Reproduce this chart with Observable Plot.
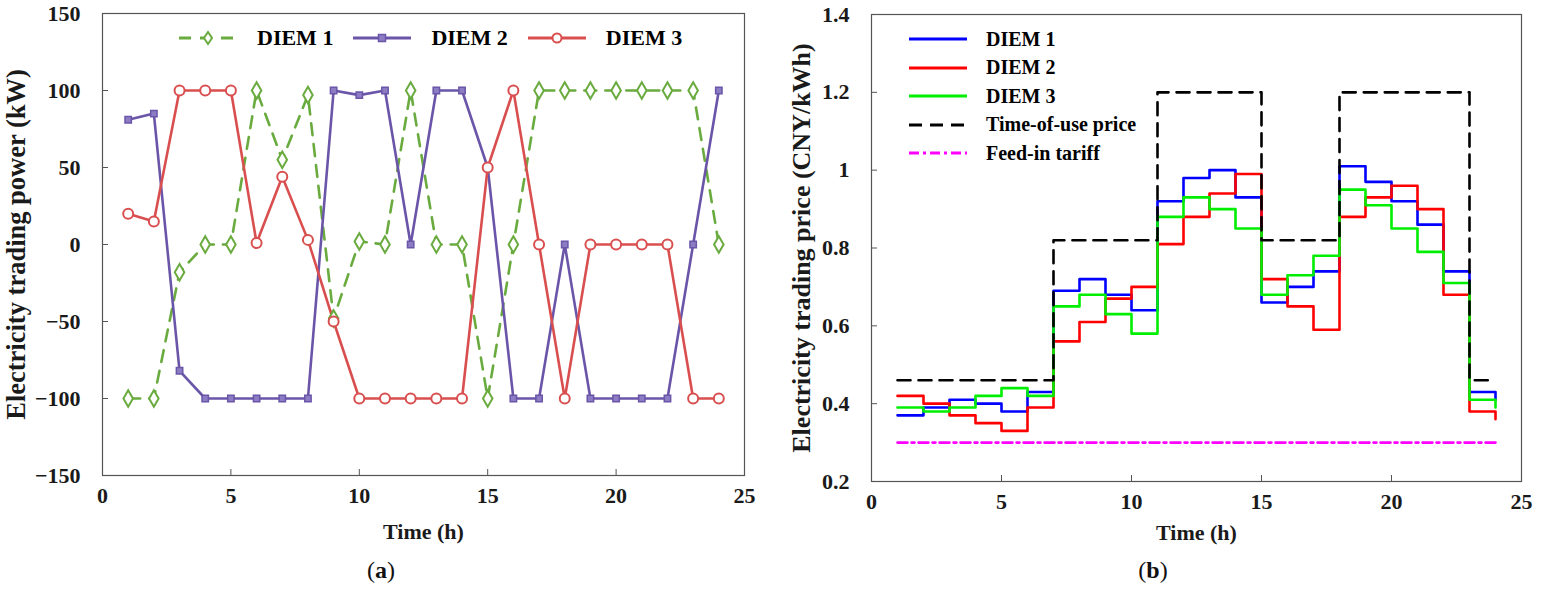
<!DOCTYPE html>
<html>
<head>
<meta charset="utf-8">
<script src="https://cdn.jsdelivr.net/npm/d3@7"></script>
<script src="https://cdn.jsdelivr.net/npm/@observablehq/plot@0.6"></script>
<style>
  body { margin: 0; background: #fff; }
  #wrap { position: relative; width: 1545px; height: 595px; overflow: hidden; font-family: "Liberation Serif", "Times New Roman", serif; color: #111; }
  .chart { position: absolute; top: 0; }
  .legend { position: absolute; font-weight: bold; color: #000; }
  .item { display: flex; align-items: center; white-space: nowrap; }
  .caption { position: absolute; top: 557px; font-size: 24px; transform: translateX(-50%); color: #111; }
</style>
</head>
<body>
<div id="wrap">
  <div class="chart" id="left" style="left:0px"></div>
  <div class="chart" id="right" style="left:770px"></div>
  <div class="legend" id="legLeft" style="left:177px; top:25px; font-size:22px; display:flex; gap:0px;"></div>
  <div class="legend" id="legRight" style="left:907px; top:25px; font-size:20px;"></div>
  <div class="caption" style="left:381px">(<b>a</b>)</div>
  <div class="caption" style="left:1153px">(<b>b</b>)</div>
</div>
<script>
// ---------- data ----------
const hours = [1,2,3,4,5,6,7,8,9,10,11,12,13,14,15,16,17,18,19,20,21,22,23,24];

const diem1Power = [-100,-100,-18,0,0,100,55,97,-48,2,0,100,0,0,-100,0,100,100,100,100,100,100,100,0];
const diem2Power = [81,85,-82,-100,-100,-100,-100,-100,100,97,100,0,100,100,50,-100,-100,0,-100,-100,-100,-100,0,100];
const diem3Power = [20,15,100,100,100,1,44,3,-50,-100,-100,-100,-100,-100,50,100,0,-100,0,0,0,0,-100,-100];

const diem1Price = [0.37,0.39,0.41,0.40,0.38,0.43,0.69,0.72,0.68,0.64,0.92,0.98,1.00,0.93,0.66,0.70,0.74,1.01,0.97,0.92,0.86,0.74,0.43,0.41];
const diem2Price = [0.42,0.40,0.37,0.35,0.33,0.39,0.56,0.61,0.67,0.70,0.81,0.88,0.94,0.99,0.72,0.65,0.59,0.88,0.93,0.96,0.90,0.68,0.38,0.36];
const diem3Price = [0.39,0.38,0.39,0.42,0.44,0.42,0.65,0.68,0.63,0.58,0.88,0.93,0.90,0.85,0.68,0.73,0.78,0.95,0.91,0.85,0.79,0.71,0.41,0.39];
const touPrice   = [0.46,0.46,0.46,0.46,0.46,0.46,0.82,0.82,0.82,0.82,1.2,1.2,1.2,1.2,0.82,0.82,0.82,1.2,1.2,1.2,1.2,1.2,0.46,0.46];
const feedIn     = [0.3,0.3,0.3,0.3,0.3,0.3,0.3,0.3,0.3,0.3,0.3,0.3,0.3,0.3,0.3,0.3,0.3,0.3,0.3,0.3,0.3,0.3,0.3,0.3];

const xTicks = [0,5,10,15,20,25];
const yTicksPower = [-150,-100,-50,0,50,100,150];
const yTicksPrice = [0.2,0.4,0.6,0.8,1,1.2,1.4];

const powerSeries = ["DIEM 1","DIEM 2","DIEM 3"];
const priceSeries = ["DIEM 1","DIEM 2","DIEM 3","Time-of-use price","Feed-in tariff"];

// ---------- styles ----------
const C1 = "#6aab3f", C2 = "#6a55a8", C3 = "#d94f4f";
const axisColor = "#555";
const baseStyle = {fontFamily: "'Liberation Serif', 'Times New Roman', serif", fontSize: "22px", fontWeight: "bold", color: "#1a1a1a", background: "#fff"};

const toRows = (vals) => hours.map((h, i) => ({h, v: vals[i]}));

// ---------- left chart ----------
const p1 = [toRows(diem1Power), toRows(diem2Power), toRows(diem3Power)];
const left = Plot.plot({
  width: 770, height: 555,
  marginLeft: 102, marginRight: 26, marginTop: 13, marginBottom: 80,
  style: baseStyle,
  x: {domain: [0, 25]},
  y: {domain: [-150, 150]},
  marks: [
    Plot.frame({stroke: axisColor, strokeWidth: 1.2}),
    Plot.axisX({ticks: xTicks, tickSize: -6, tickPadding: 18, stroke: axisColor, label: "Time (h)", labelAnchor: "center", labelArrow: "none", labelOffset: 63, fill: "#1a1a1a"}),
    Plot.axisY({ticks: yTicksPower, tickSize: -6, tickPadding: 28, stroke: axisColor, label: null, fill: "#1a1a1a"}),
    Plot.axisY({ticks: [], label: "Electricity trading power (kW)", labelAnchor: "center", labelArrow: "none", labelOffset: 96, fill: "#1a1a1a", fontSize: 26.5}),
    Plot.line(p1[0], {x: "h", y: "v", stroke: C1, strokeWidth: 2.6, strokeDasharray: "12,9"}),
    Plot.line(p1[1], {x: "h", y: "v", stroke: C2, strokeWidth: 2.6}),
    Plot.line(p1[2], {x: "h", y: "v", stroke: C3, strokeWidth: 2.6}),
    Plot.dot(p1[0], {x: "h", y: "v", symbol: "diamond", r: 5, stroke: C1, strokeWidth: 2, fill: "#fff"}),
    Plot.dot(p1[1], {x: "h", y: "v", symbol: "square", r: 3.6, stroke: C2, strokeWidth: 1.5, fill: "#8c7cc4"}),
    Plot.dot(p1[2], {x: "h", y: "v", symbol: "circle", r: 5, stroke: C3, strokeWidth: 2, fill: "#fff"})
  ]
});
document.getElementById("left").appendChild(left);

// ---------- right chart ----------
const priceStyles = [
  {vals: diem1Price, stroke: "#0000ff", dash: null},
  {vals: diem2Price, stroke: "#ff0000", dash: null},
  {vals: diem3Price, stroke: "#00ee00", dash: null},
  {vals: touPrice, stroke: "#000000", dash: "13,8"},
  {vals: feedIn, stroke: "#ff00ff", dash: "10,4,3,4"}
];
const right = Plot.plot({
  width: 775, height: 555,
  marginLeft: 101, marginRight: 24, marginTop: 14, marginBottom: 74,
  style: baseStyle,
  x: {domain: [0, 25]},
  y: {domain: [0.2, 1.4]},
  marks: [
    Plot.frame({stroke: axisColor, strokeWidth: 1.2}),
    Plot.axisX({ticks: xTicks, tickSize: -6, tickPadding: 18, stroke: axisColor, label: "Time (h)", labelAnchor: "center", labelArrow: "none", labelOffset: 58, fill: "#1a1a1a"}),
    Plot.axisY({ticks: yTicksPrice, tickFormat: d => String(d), tickSize: -6, tickPadding: 28, stroke: axisColor, label: null, fill: "#1a1a1a"}),
    Plot.axisY({ticks: [], label: "Electricity trading price (CNY/kWh)", labelAnchor: "center", labelArrow: "none", labelOffset: 80, fill: "#1a1a1a", fontSize: 26}),
    ...priceStyles.map(s => Plot.line(toRows(s.vals), {x: "h", y: "v", curve: "step-after", stroke: s.stroke, strokeWidth: 2.6, strokeDasharray: s.dash}))
  ]
});
document.getElementById("right").appendChild(right);

// ---------- legends ----------
function swatch(color, dash, symbol, width) {
  const ns = "http://www.w3.org/2000/svg";
  const svg = document.createElementNS(ns, "svg");
  svg.setAttribute("width", width); svg.setAttribute("height", 16);
  const line = document.createElementNS(ns, "line");
  line.setAttribute("x1", 2); line.setAttribute("x2", width - 2);
  line.setAttribute("y1", 8); line.setAttribute("y2", 8);
  line.setAttribute("stroke", color); line.setAttribute("stroke-width", 2.8);
  if (dash) line.setAttribute("stroke-dasharray", dash);
  svg.appendChild(line);
  const cx = width / 2;
  if (symbol === "diamond") {
    const p = document.createElementNS(ns, "path");
    p.setAttribute("d", `M${cx},2 L${cx+4},8 L${cx},14 L${cx-4},8 Z`);
    p.setAttribute("fill", "#fff"); p.setAttribute("stroke", color); p.setAttribute("stroke-width", 2);
    svg.appendChild(p);
  } else if (symbol === "square") {
    const r = document.createElementNS(ns, "rect");
    r.setAttribute("x", cx - 3.5); r.setAttribute("y", 4.5); r.setAttribute("width", 7); r.setAttribute("height", 7);
    r.setAttribute("fill", "#8c7cc4"); r.setAttribute("stroke", color); r.setAttribute("stroke-width", 1.5);
    svg.appendChild(r);
  } else if (symbol === "circle") {
    const c = document.createElementNS(ns, "circle");
    c.setAttribute("cx", cx); c.setAttribute("cy", 8); c.setAttribute("r", 4.5);
    c.setAttribute("fill", "#fff"); c.setAttribute("stroke", color); c.setAttribute("stroke-width", 2);
    svg.appendChild(c);
  }
  return svg;
}
const legLeft = document.getElementById("legLeft");
const leftSw = [[C1, "12,9", "diamond"], [C2, null, "square"], [C3, null, "circle"]];
powerSeries.forEach((name, i) => {
  const it = document.createElement("div"); it.className = "item";
  it.style.marginRight = "18px";
  it.appendChild(swatch(leftSw[i][0], leftSw[i][1], leftSw[i][2], 62));
  const t = document.createElement("span"); t.textContent = name; t.style.marginLeft = "18px";
  it.appendChild(t);
  legLeft.appendChild(it);
});
const legRight = document.getElementById("legRight");
priceSeries.forEach((name, i) => {
  const it = document.createElement("div"); it.className = "item";
  it.style.height = "28.5px";
  it.appendChild(swatch(priceStyles[i].stroke, priceStyles[i].dash, null, 62));
  const t = document.createElement("span"); t.textContent = name; t.style.marginLeft = "17px";
  it.appendChild(t);
  legRight.appendChild(it);
});
</script>
</body>
</html>
